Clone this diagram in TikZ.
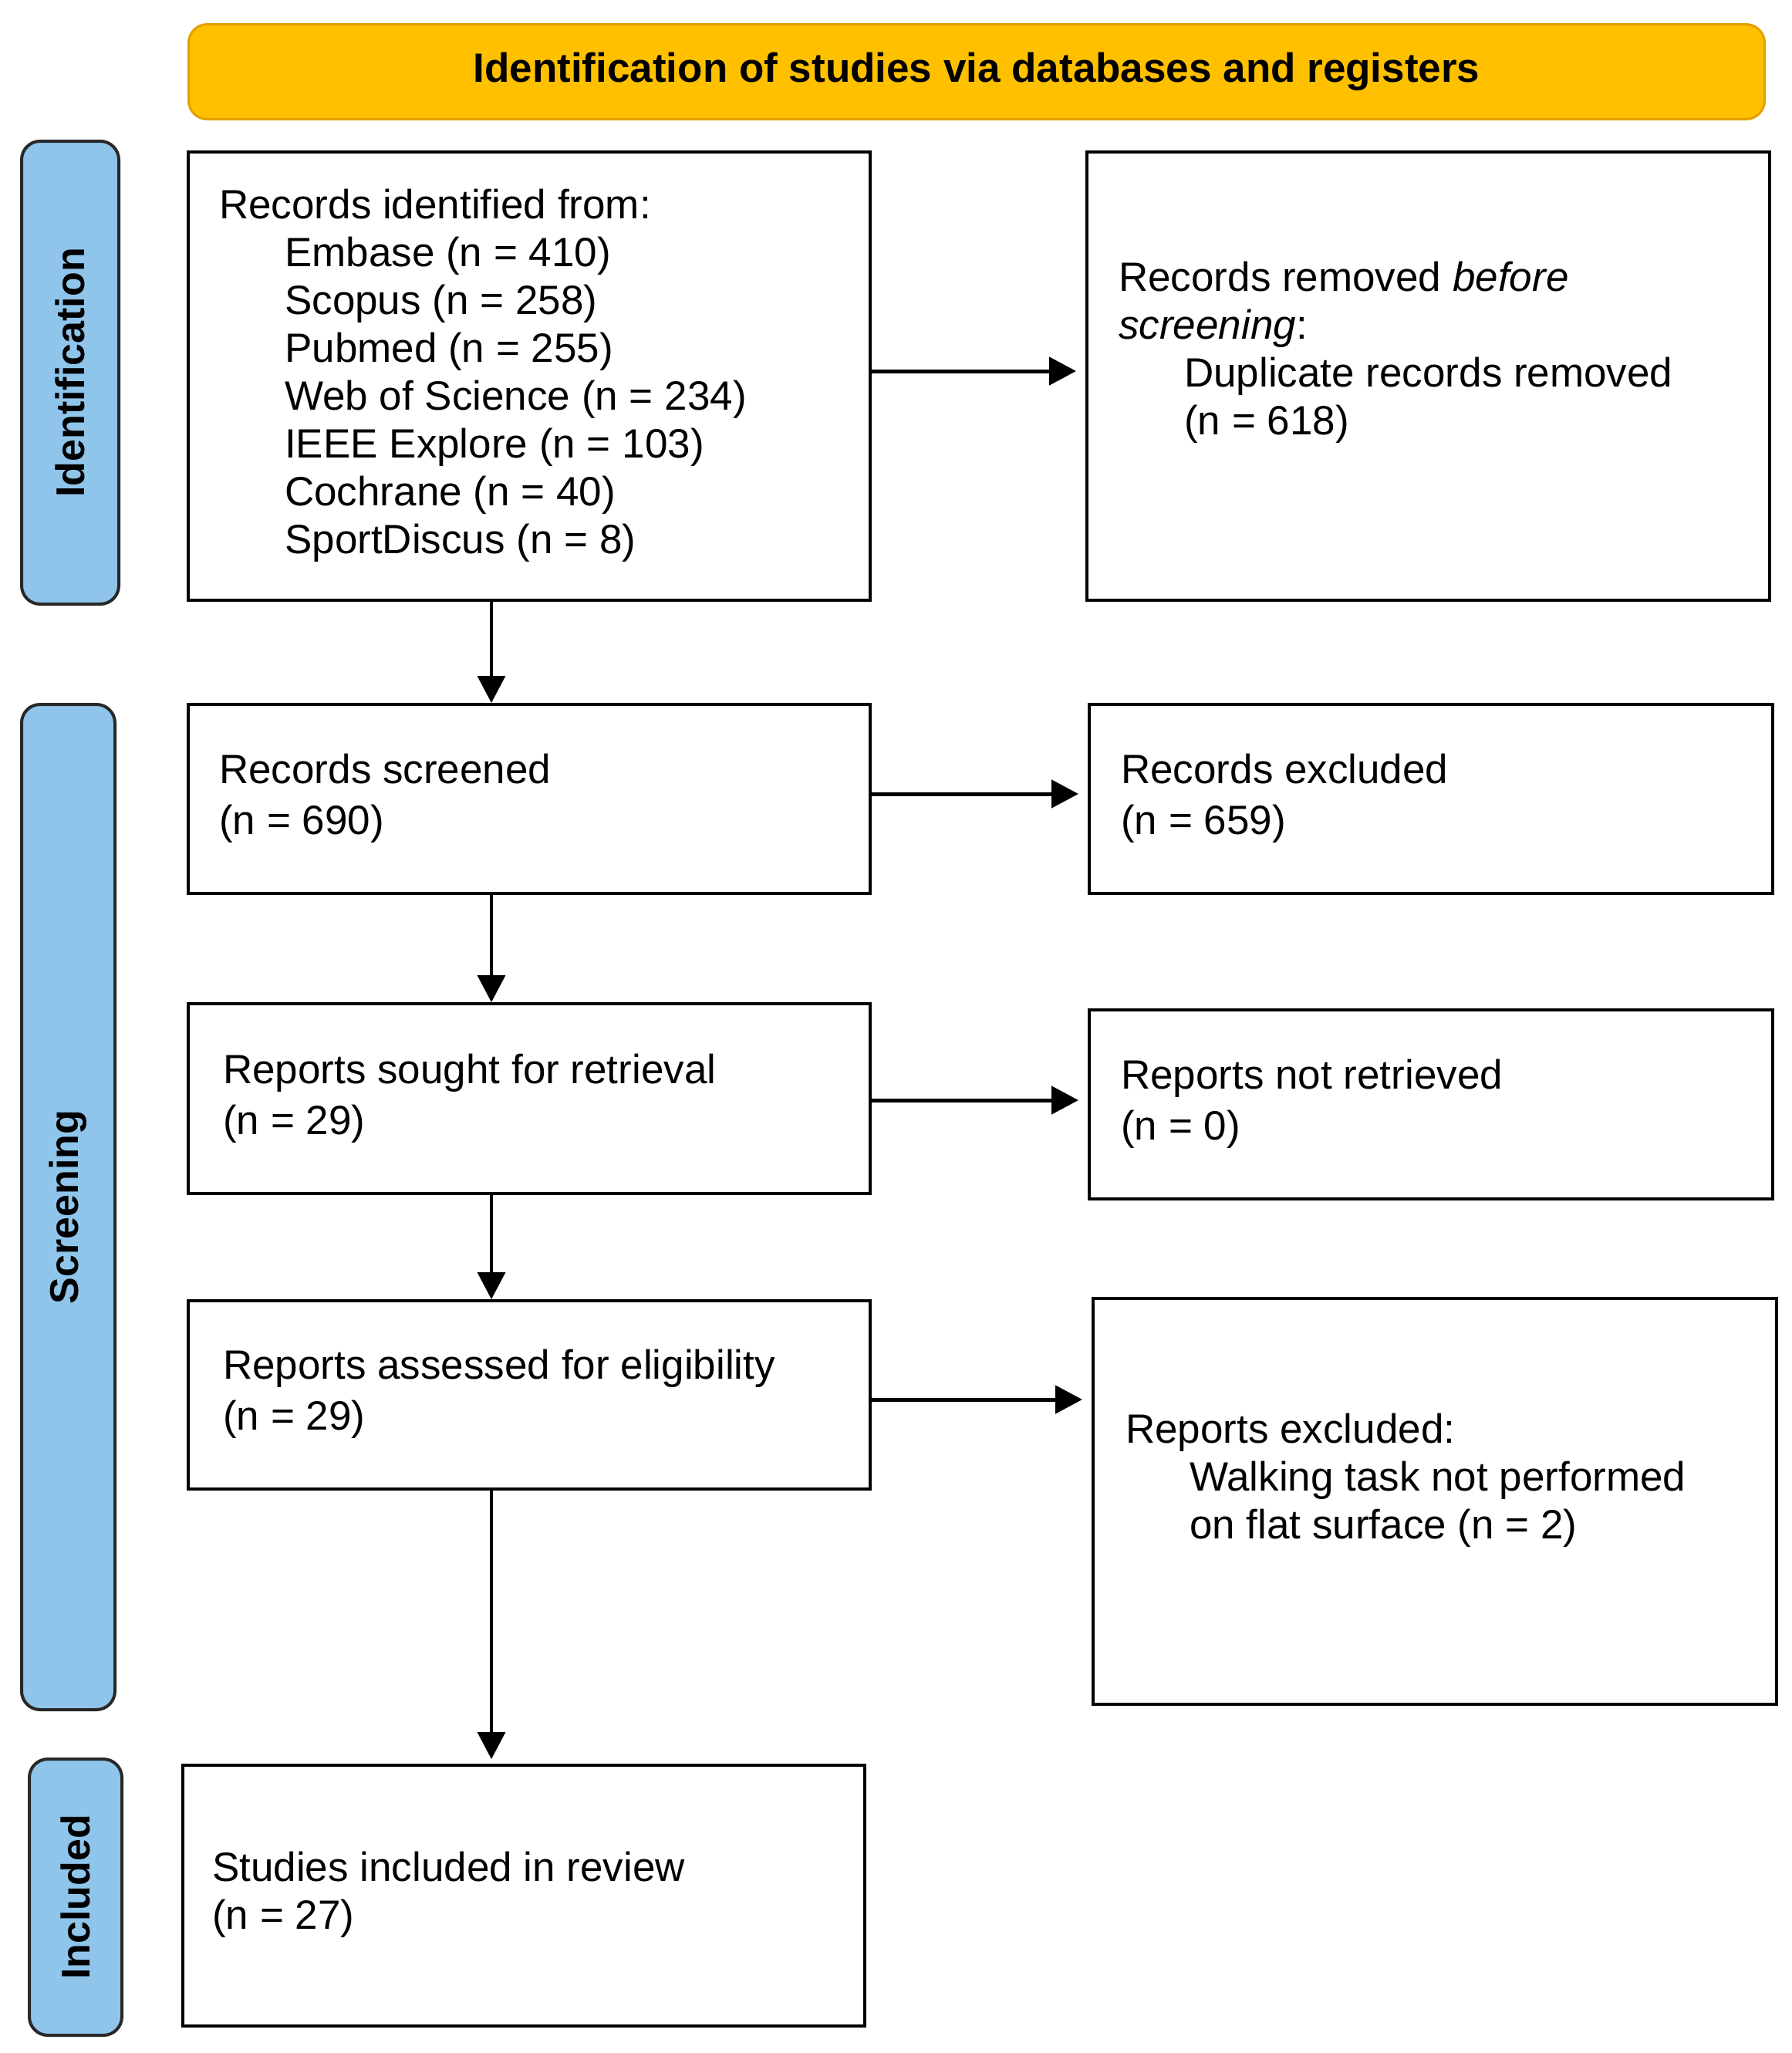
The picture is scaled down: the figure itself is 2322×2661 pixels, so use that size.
\documentclass[tikz,border=0pt]{standalone}
\usepackage{fontspec}
\setmainfont{Liberation Sans}
\usetikzlibrary{arrows.meta,calc}
\definecolor{bannerfill}{RGB}{255,192,0}
\definecolor{bannerdraw}{RGB}{228,160,0}
\definecolor{sidefill}{RGB}{143,197,234}
\definecolor{sidedraw}{RGB}{40,40,40}
\begin{document}
\begin{tikzpicture}[x=1pt,y=-1pt,
  box/.style={draw=black, line width=4pt, fill=white, anchor=north west, inner sep=0pt},
  txt/.style={anchor=west, inner sep=0pt, align=left, font=\fontsize{53}{62}\selectfont},
  txtw/.style={anchor=west, inner sep=0pt, align=left, font=\fontsize{53}{66}\selectfont},
  side/.style={draw=sidedraw, fill=sidefill, line width=4pt, rounded corners=24pt, anchor=north west, inner sep=0pt},
  sidetxt/.style={rotate=90, inner sep=0pt, font=\fontsize{52}{60}\selectfont\bfseries},
  banner/.style={draw=bannerdraw, fill=bannerfill, line width=3pt, rounded corners=24pt, anchor=north west, inner sep=0pt},
  harrow/.style={line width=5pt, -{Triangle[length=35pt,width=36pt]}, shorten >=12pt},
  varrow/.style={line width=3.5pt, -{Triangle[length=35pt,width=36pt]}}
]
\useasboundingbox (0,0) rectangle (2322,2661);

% banner
\node[banner, minimum width=2043pt, minimum height=123pt] (ban) at (243,30) {};
\node[inner sep=0pt, font=\fontsize{53}{60}\selectfont\bfseries] (bantxt) at (ban.center) {Identification of studies via databases and registers};

% side labels
\node[side, minimum width=126pt, minimum height=600pt] (sidId) at (26,181) {};
\node[sidetxt] (sidIdT) at (sidId.center) {Identification};
\node[side, minimum width=121pt, minimum height=1303pt] (sidScr) at (26,911) {};
\node[sidetxt] (sidScrT) at (sidScr.center) {Screening};
\node[side, minimum width=120pt, minimum height=358pt] (sidInc) at (36,2278) {};
\node[sidetxt] (sidIncT) at (sidInc.center) {Included};

% boxes
\node[box, minimum width=884pt, minimum height=581pt] (b1) at (242,195) {};
\node[box, minimum width=885pt, minimum height=581pt] (b2) at (1407,195) {};
\node[box, minimum width=884pt, minimum height=245pt] (b3) at (242,911) {};
\node[box, minimum width=886pt, minimum height=245pt] (b4) at (1410,911) {};
\node[box, minimum width=884pt, minimum height=246pt] (b5) at (242,1299) {};
\node[box, minimum width=886pt, minimum height=245pt] (b6) at (1410,1307) {};
\node[box, minimum width=884pt, minimum height=244pt] (b7) at (242,1684) {};
\node[box, minimum width=886pt, minimum height=526pt] (b8) at (1415,1681) {};
\node[box, minimum width=884pt, minimum height=338pt] (b9) at (235,2286) {};

% texts
\node[txt] (t1) at (284,487) {Records identified from:\\
\hspace*{85pt}Embase (n = 410)\\
\hspace*{85pt}Scopus (n = 258)\\
\hspace*{85pt}Pubmed (n = 255)\\
\hspace*{85pt}Web of Science (n = 234)\\
\hspace*{85pt}IEEE Explore (n = 103)\\
\hspace*{85pt}Cochrane (n = 40)\\
\hspace*{85pt}SportDiscus (n = 8)};
\node[txt] (t2) at (1450,457) {Records removed \emph{before}\\
\emph{screening}:\\
\hspace*{85pt}Duplicate records removed\\
\hspace*{85pt}(n = 618)};
\node[txtw] (t3) at (284,1035) {Records screened\\(n = 690)};
\node[txtw] (t4) at (1453,1035) {Records excluded\\(n = 659)};
\node[txtw] (t5) at (289,1424) {Reports sought for retrieval\\(n = 29)};
\node[txtw] (t6) at (1453,1431) {Reports not retrieved\\(n = 0)};
\node[txtw] (t7) at (289,1807) {Reports assessed for eligibility\\(n = 29)};
\node[txt] (t8) at (1459,1919) {Reports excluded:\\
\hspace*{83pt}Walking task not performed\\
\hspace*{83pt}on flat surface (n = 2)};
\node[txt] (t9) at (275,2456) {Studies included in review\\(n = 27)};

% connectors
\coordinate (vx) at (637,0);
\coordinate (a1) at (0,481);
\coordinate (a2) at (0,1029);
\coordinate (a3) at (0,1426);
\coordinate (a4) at (0,1814);
\draw[varrow] (b1.south -| vx) -- (b3.north -| vx);
\draw[varrow] (b3.south -| vx) -- (b5.north -| vx);
\draw[varrow] (b5.south -| vx) -- (b7.north -| vx);
\draw[varrow, shorten >=6pt] (b7.south -| vx) -- (b9.north -| vx);
\draw[harrow] (b1.east |- a1) -- (b2.west |- a1);
\draw[harrow] (b3.east |- a2) -- (b4.west |- a2);
\draw[harrow] (b5.east |- a3) -- (b6.west |- a3);
\draw[harrow] (b7.east |- a4) -- (b8.west |- a4);
\end{tikzpicture}
\end{document}
